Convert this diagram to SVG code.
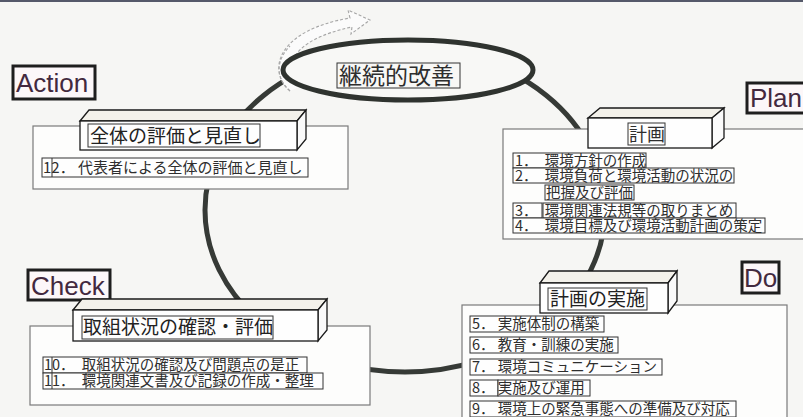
<svg xmlns="http://www.w3.org/2000/svg" width="803" height="417" viewBox="0 0 803 417">
<style>
.jp{font-family:"Noto Sans CJK JP","Noto Sans CJK SC",sans-serif;fill:#2e2e2e}
.item{font-size:14.5px}
.head{font-size:19px;fill:#222}
.lbl{font-family:"Liberation Sans","DejaVu Sans",sans-serif;font-size:26px;fill:#43293f}
.lblbox{fill:#fcf7f9;stroke:#1e1e1e;stroke-width:3}
.outer{fill:#fdfdfc;stroke:#7a7a7a;stroke-width:1.2}
.front{fill:#fefefe;stroke:#1a1a1a;stroke-width:1.3}
.top{fill:#f3f1ea;stroke:#1a1a1a;stroke-width:1.3}
.side{fill:#fafafa;stroke:#1a1a1a;stroke-width:1.3}
.tbox{fill:none;stroke:#333;stroke-width:1}
.row{fill:#fefefe;stroke:#333;stroke-width:1}
.div{stroke:#333;stroke-width:1}
</style>
<rect x="0" y="0" width="803" height="417" fill="#f6f6f4"/>
<rect x="0" y="0" width="803" height="2" fill="#55596a"/>

<g id="connectors">
  <ellipse cx="405" cy="210" rx="200" ry="162" fill="none" stroke="#363a36" stroke-width="5"/>
  <path d="M290,91 C266,70 278,30 350,18 L348,10 L370,20 L351,34 L352,27 C290,40 282,68 301,86" fill="#fbfbfb" stroke="#a5a5a5" stroke-width="1.1" stroke-dasharray="3 2"/>
</g>

<g id="kaizen">
  <ellipse cx="408" cy="70" rx="125" ry="30" fill="#f8f8f6" stroke="#2f332f" stroke-width="5"/>
  <path d="M290,91 C275,78 276,60 290,46" fill="none" stroke="#a5a5a5" stroke-width="1.1" stroke-dasharray="3 2"/>
  <rect x="337" y="63" width="123" height="25" class="tbox"/>
  <text x="339" y="84" class="jp" font-size="23" fill="#222">継続的改善</text>
</g>

<g id="action">
  <rect x="13" y="66" width="82" height="33" class="lblbox"/>
  <text x="16" y="92" class="lbl" font-size="27">Action</text>
  <rect x="33" y="126" width="315" height="63" class="outer"/>
  <polygon points="80,121 89,110 306,110 297,121" class="top"/>
  <polygon points="297,121 306,110 306,139 297,150" class="side"/>
  <rect x="80" y="121" width="217" height="29" class="front"/>
  <rect x="88" y="124" width="172" height="23" class="tbox"/>
  <text x="90" y="143" class="jp head">全体の評価と見直し</text>
  <rect x="42" y="158" width="266" height="19" class="row"/>
  <line x1="52" y1="158" x2="52" y2="177" class="div"/>
  <text x="43" y="173" class="jp" font-size="15">12． 代表者による全体の評価と見直し</text>
</g>

<g id="plan">
  <rect x="747" y="83" width="62" height="30" class="lblbox"/>
  <text x="750" y="107" class="lbl">Plan</text>
  <rect x="503" y="129" width="310" height="110" class="outer"/>
  <polygon points="588,118 600,108 724,108 712,118" class="top"/>
  <polygon points="712,118 724,108 724,138 712,148" class="side"/>
  <rect x="588" y="118" width="124" height="30" class="front"/>
  <rect x="628" y="123" width="37" height="22" class="tbox"/>
  <text x="629" y="141" class="jp" font-size="18" fill="#222">計画</text>
  <rect x="513" y="153" width="133" height="15" class="row"/>
  <text x="515" y="165.5" class="jp item">1．　環境方針の作成</text>
  <rect x="513" y="168" width="221" height="15" class="row"/>
  <text x="515" y="180.5" class="jp item">2．　環境負荷と環境活動の状況の</text>
  <rect x="545" y="185" width="89" height="15" class="row"/>
  <text x="546" y="197.5" class="jp item">把握及び評価</text>
  <rect x="513" y="203" width="29" height="15" class="row"/>
  <rect x="543" y="203" width="193" height="15" class="row"/>
  <text x="515" y="215.5" class="jp item">3．　環境関連法規等の取りまとめ</text>
  <rect x="513" y="218" width="252" height="15" class="row"/>
  <text x="515" y="230.5" class="jp item">4．　環境目標及び環境活動計画の策定</text>
</g>

<g id="do">
  <rect x="742" y="262" width="37" height="31" class="lblbox"/>
  <text x="744" y="287" class="lbl">Do</text>
  <rect x="462" y="305" width="325" height="120" class="outer"/>
  <polygon points="540,283 549,271 677,271 668,283" class="top"/>
  <polygon points="668,283 677,271 677,301 668,313" class="side"/>
  <rect x="540" y="283" width="128" height="30" class="front"/>
  <rect x="548" y="288" width="99" height="22" class="tbox"/>
  <text x="550" y="306" class="jp head">計画の実施</text>
  <rect x="470" y="316" width="134" height="16" class="row"/>
  <text x="472" y="329" class="jp item">5． 実施体制の構築</text>
  <rect x="470" y="337" width="148" height="16" class="row"/>
  <text x="472" y="350" class="jp item">6． 教育・訓練の実施</text>
  <rect x="470" y="359" width="192" height="16" class="row"/>
  <text x="472" y="372" class="jp item">7． 環境コミュニケーション</text>
  <rect x="470" y="380" width="28" height="16" class="row"/>
  <rect x="498" y="380" width="92" height="16" class="row"/>
  <text x="472" y="393" class="jp item">8． 実施及び運用</text>
  <rect x="470" y="401" width="266" height="16" class="row"/>
  <text x="472" y="414" class="jp item">9． 環境上の緊急事態への準備及び対応</text>
</g>

<g id="check">
  <rect x="28" y="270" width="82" height="30" class="lblbox"/>
  <text x="31" y="295" class="lbl">Check</text>
  <rect x="30" y="326" width="340" height="79" class="outer"/>
  <polygon points="73,310 82,299 327,299 318,310" class="top"/>
  <polygon points="318,310 327,299 327,330 318,341" class="side"/>
  <rect x="73" y="310" width="245" height="31" class="front"/>
  <rect x="82" y="316" width="191" height="23" class="tbox"/>
  <text x="83" y="334" class="jp head">取組状況の確認・評価</text>
  <rect x="43" y="357" width="264" height="16" class="row"/>
  <line x1="52" y1="357" x2="52" y2="373" class="div"/>
  <text x="44" y="370" class="jp item">10．　取組状況の確認及び問題点の是正</text>
  <rect x="43" y="373" width="280" height="16" class="row"/>
  <line x1="52" y1="373" x2="52" y2="389" class="div"/>
  <line x1="86" y1="373" x2="86" y2="389" class="div"/>
  <text x="44" y="386" class="jp item">11．　環境関連文書及び記録の作成・整理</text>
</g>
</svg>
